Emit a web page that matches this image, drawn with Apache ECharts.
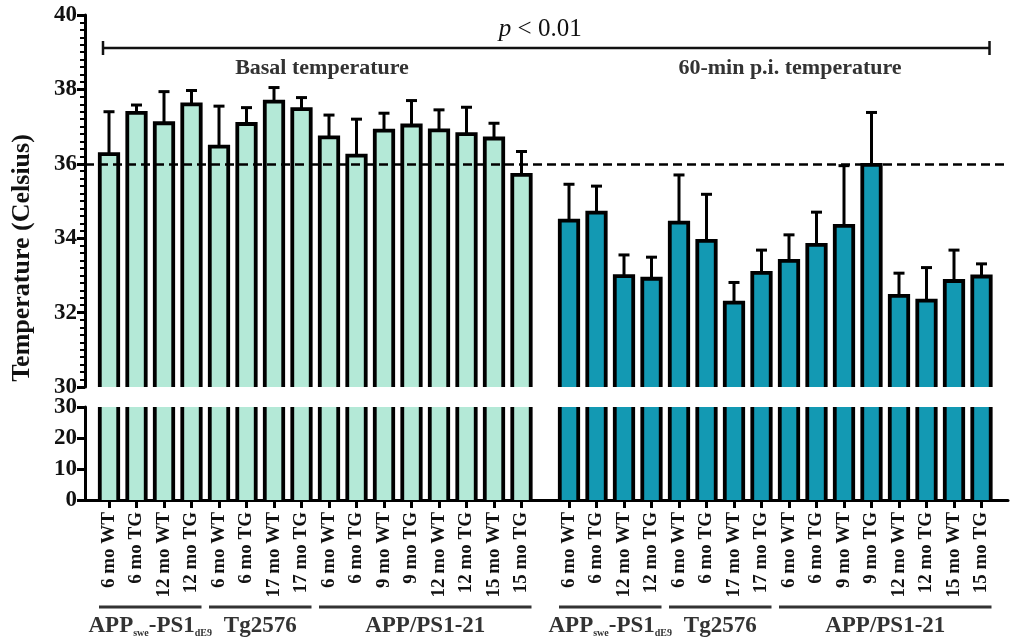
<!DOCTYPE html>
<html><head><meta charset="utf-8">
<script src="https://cdn.jsdelivr.net/npm/echarts@6/dist/echarts.min.js"></script>
<style>html,body{margin:0;padding:0;background:#fff}#c{width:1010px;height:639px}</style>
</head><body><div id="c"></div>
<script>
// ---------- data ----------
const tickLabels = ['6 mo WT','6 mo TG','12 mo WT','12 mo TG','6 mo WT','6 mo TG','17 mo WT','17 mo TG',
                    '6 mo WT','6 mo TG','9 mo WT','9 mo TG','12 mo WT','12 mo TG','15 mo WT','15 mo TG'];
const basalMean = [36.26,37.37,37.09,37.60,36.46,37.07,37.67,37.47,36.71,36.22,36.89,37.03,36.90,36.80,36.68,35.70];
const basalErr  = [1.14,0.21,0.85,0.37,1.09,0.44,0.38,0.31,0.60,0.98,0.47,0.67,0.55,0.72,0.41,0.63];
const postMean  = [34.47,34.69,32.98,32.91,34.42,33.93,32.27,33.07,33.39,33.82,34.33,35.97,32.45,32.32,32.85,32.97];
const postErr   = [0.98,0.71,0.57,0.58,1.28,1.25,0.54,0.61,0.70,0.88,1.62,1.41,0.61,0.89,0.83,0.34];
const groupLabels = ['{a|APP}{s|swe}{a|-PS1}{s|dE9}', '{a|Tg2576}', '{a|APP/PS1-21}'];
const groupFrom = [0, 4, 8];
const groupTo   = [3, 7, 15];
const topRange = [30, 40, 2];
const bottomRange = [0, 30, 10];
const refValue = 36;
const sectionTitles = ['Basal temperature', '60-min p.i. temperature'];
const yTitle = 'Temperature (Celsius)';

// ---------- style ----------
const FONT = '"Liberation Serif", "Times New Roman", serif';
const BASAL_COLOR = '#b4e9d7', POST_COLOR = '#1399b3';
const STROKE = 3.8;

function barRenderer(color, lo, hi, withErr) {
  return function (params, api) {
    const i = api.value(0), v = api.value(1), e = api.value(2);
    const base = api.coord([i, lo]);
    const x = base[0], yBase = base[1];
    const yHi = api.coord([i, hi])[1];
    const yV = api.coord([i, v])[1];
    const bw = api.size([1, 0])[0] * 0.67;
    const x0 = x - bw / 2, x1 = x + bw / 2;
    const clipped = v > hi;
    const yTop = clipped ? yHi : yV;
    const children = [{
      type: 'rect', shape: { x: x0, y: yTop, width: bw, height: yBase - yTop },
      style: { fill: color }
    }];
    const ls = { stroke: '#000', lineWidth: STROKE, fill: null, lineJoin: 'miter' };
    if (clipped) {
      children.push({ type: 'line', shape: { x1: x0, y1: yBase, x2: x0, y2: yTop }, style: ls });
      children.push({ type: 'line', shape: { x1: x1, y1: yBase, x2: x1, y2: yTop }, style: ls });
    } else {
      children.push({ type: 'polyline', shape: { points: [[x0, yBase], [x0, yTop], [x1, yTop], [x1, yBase]] }, style: ls });
    }
    if (withErr) {
      const yE = api.coord([i, v + e])[1];
      const es = { stroke: '#000', lineWidth: 3 };
      children.push({ type: 'line', shape: { x1: x, y1: yV, x2: x, y2: yE }, style: es });
      children.push({ type: 'line', shape: { x1: x - 5.5, y1: yE, x2: x + 5.5, y2: yE }, style: es });
    }
    return { type: 'group', children };
  };
}

const leftX = 95.25, rightX = 555.25, bandTotal = 440;
const topY = 15, topH = 372, botY = 407, botH = 93;

const hiddenCat = (g) => ({ type: 'category', gridIndex: g, data: tickLabels, show: false });
const shownCat = (g) => ({
  type: 'category', gridIndex: g, data: tickLabels,
  axisLine: { show: false },
  axisTick: { show: true, alignWithLabel: true, length: 8, lineStyle: { color: '#000', width: 3 } },
  axisLabel: { interval: 0, rotate: 90, margin: 12, fontFamily: FONT, fontWeight: 'bold', fontSize: 19, color: '#111' }
});
const hiddenVal = (g, r) => ({ type: 'value', gridIndex: g, min: r[0], max: r[1], show: false, splitLine: { show: false } });
const shownY = (g, r, minor) => ({
  type: 'value', gridIndex: g, min: r[0], max: r[1], interval: r[2],
  axisLine: { show: true, onZero: false, lineStyle: { color: '#000', width: 3 } },
  axisTick: { show: true, length: 8, lineStyle: { color: '#000', width: 3 } },
  minorTick: { show: minor, splitNumber: 10, length: 5, lineStyle: { color: '#000', width: 2 } },
  splitLine: { show: false },
  axisLabel: { margin: 8, fontFamily: FONT, fontWeight: 'bold', fontSize: 23, color: '#111' }
});

const toData = (m, e) => m.map((v, i) => [i, v, e[i]]);

const option = {
  animation: false,
  backgroundColor: '#fff',
  grid: [
    { left: leftX, top: topY, width: bandTotal, height: topH },
    { left: rightX, top: topY, width: bandTotal, height: topH },
    { left: leftX, top: botY, width: bandTotal, height: botH },
    { left: rightX, top: botY, width: bandTotal, height: botH },
    { left: 85, top: topY, right: 2, height: topH },
    { left: 85, top: botY, right: 2, height: botH }
  ],
  xAxis: [
    hiddenCat(0), hiddenCat(1), shownCat(2), shownCat(3),
    { type: 'value', gridIndex: 4, min: 0, max: 1, show: false },
    { type: 'value', gridIndex: 5, min: 0, max: 1,
      axisLine: { show: true, onZero: false, lineStyle: { color: '#000', width: 3 } },
      axisTick: { show: false }, axisLabel: { show: false }, splitLine: { show: false } }
  ],
  yAxis: [
    hiddenVal(0, topRange), hiddenVal(1, topRange), hiddenVal(2, bottomRange), hiddenVal(3, bottomRange),
    shownY(4, topRange, true), shownY(5, bottomRange, false)
  ],
  series: [
    { type: 'custom', xAxisIndex: 0, yAxisIndex: 0, renderItem: barRenderer(BASAL_COLOR, topRange[0], topRange[1], true), data: toData(basalMean, basalErr), encode: { x: 0, y: 1 } },
    { type: 'custom', xAxisIndex: 1, yAxisIndex: 1, renderItem: barRenderer(POST_COLOR, topRange[0], topRange[1], true), data: toData(postMean, postErr), encode: { x: 0, y: 1 } },
    { type: 'custom', xAxisIndex: 2, yAxisIndex: 2, renderItem: barRenderer(BASAL_COLOR, bottomRange[0], bottomRange[1], false), data: toData(basalMean, basalErr), encode: { x: 0, y: 1 } },
    { type: 'custom', xAxisIndex: 3, yAxisIndex: 3, renderItem: barRenderer(POST_COLOR, bottomRange[0], bottomRange[1], false), data: toData(postMean, postErr), encode: { x: 0, y: 1 } },
    { type: 'line', xAxisIndex: 4, yAxisIndex: 4, data: [], z: 10,
      markLine: { silent: true, symbol: ['none', 'none'], label: { show: false },
        lineStyle: { color: '#000', width: 2.5, type: [9, 5] }, data: [{ yAxis: refValue }] } }
  ]
};

const chart = echarts.init(document.getElementById('c'), null, { renderer: 'canvas' });
chart.setOption(option);

const px = (ax, i) => chart.convertToPixel({ xAxisIndex: ax }, i);
const graphic = [];
// y axis title
graphic.push({ type: 'text', x: 22, y: 258, rotation: Math.PI / 2,
  style: { text: yTitle, font: 'bold 26px ' + FONT, fill: '#111', textAlign: 'center', textVerticalAlign: 'middle' } });
// section titles
graphic.push({ type: 'text', x: 322, y: 68, style: { text: sectionTitles[0], font: 'bold 22px ' + FONT, fill: '#333', textAlign: 'center', textVerticalAlign: 'middle' } });
graphic.push({ type: 'text', x: 790, y: 68, style: { text: sectionTitles[1], font: 'bold 22px ' + FONT, fill: '#333', textAlign: 'center', textVerticalAlign: 'middle' } });
// significance bracket
const bL = px(0, 0) - 6, bR = px(1, basalMean.length - 1) + 8, bY = 48;
const bs = { stroke: '#111', lineWidth: 2.5 };
graphic.push({ type: 'line', shape: { x1: bL, y1: bY, x2: bR, y2: bY }, style: bs });
graphic.push({ type: 'line', shape: { x1: bL, y1: bY - 7, x2: bL, y2: bY + 7 }, style: bs });
graphic.push({ type: 'line', shape: { x1: bR, y1: bY - 7, x2: bR, y2: bY + 7 }, style: bs });
graphic.push({ type: 'text', x: (bL + bR) / 2 - 6, y: 29, style: {
  text: '{i|p} < 0.01', font: '25px ' + FONT, fill: '#111', textAlign: 'center', textVerticalAlign: 'middle',
  rich: { i: { font: 'italic 25px ' + FONT, fill: '#111' } } } });
// group lines and labels
[2, 3].forEach(ax => {
  groupLabels.forEach((lab, k) => {
    const x1 = px(ax, groupFrom[k]) - 10, x2 = px(ax, groupTo[k]) + 10;
    graphic.push({ type: 'line', shape: { x1, y1: 607, x2, y2: 607 }, style: { stroke: '#333', lineWidth: 3 } });
    graphic.push({ type: 'text', x: (x1 + x2) / 2, y: 626, style: {
      text: lab, textAlign: 'center', textVerticalAlign: 'middle',
      rich: {
        a: { fontFamily: FONT, fontWeight: 'bold', fontSize: 23, fill: '#333', lineHeight: 24 },
        s: { fontFamily: FONT, fontWeight: 'bold', fontSize: 10, fill: '#333', lineHeight: 24, verticalAlign: 'bottom', padding: [10, 0, 0, 0] }
      } } });
  });
});
chart.setOption({ graphic });
</script></body></html>
